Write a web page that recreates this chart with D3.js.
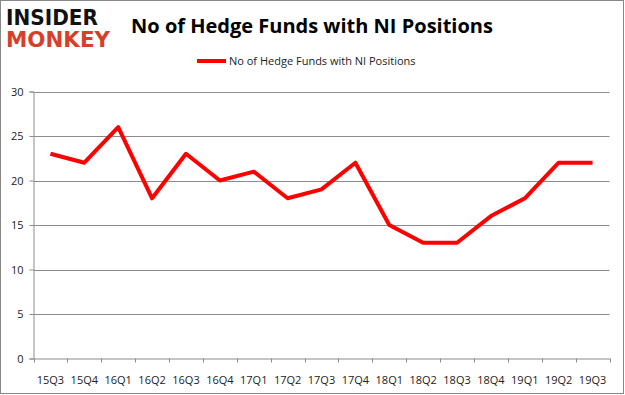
<!DOCTYPE html>
<html>
  <head>
    <meta charset="utf-8">
    <title>No of Hedge Funds with NI Positions</title>
    <script src="https://cdn.jsdelivr.net/npm/d3@7"></script>
    <style>
      body { margin: 0; background: #fff; }
      svg { display: block; font-family: "Open Sans", "DejaVu Sans", sans-serif; }
    </style>
  </head>
  <body>
    <svg id="chart" width="625" height="395"></svg>

    <script>
      // data
      quarters = ["15Q3", "15Q4", "16Q1", "16Q2", "16Q3", "16Q4", "17Q1", "17Q2", "17Q3",
        "17Q4", "18Q1", "18Q2", "18Q3", "18Q4", "19Q1", "19Q2", "19Q3"];
      funds = [23, 22, 26, 18, 23, 20, 21, 18, 19, 22, 15, 13, 13, 16, 18, 22, 22];
      yTicks = [0, 5, 10, 15, 20, 25, 30];
      seriesName = "No of Hedge Funds with NI Positions";

      chart = d3.select("#chart");

      // frame
      chart.append("rect")
        .attr("x", 0.5).attr("y", 0.5)
        .attr("width", 623).attr("height", 393)
        .attr("fill", "#fff")
        .attr("stroke", "#888");

      // logo (one text, two lines)
      logo = chart.append("text")
        .attr("font-family", "'DejaVu Sans', sans-serif")
        .attr("font-weight", "bold")
        .attr("font-size", 21);
      logo.append("tspan")
        .attr("x", 6).attr("y", 25)
        .attr("textLength", 92)
        .attr("lengthAdjust", "spacingAndGlyphs")
        .attr("fill", "#111")
        .text("INSIDER");
      logo.append("tspan")
        .attr("x", 6).attr("y", 47)
        .attr("textLength", 104)
        .attr("lengthAdjust", "spacingAndGlyphs")
        .attr("fill", "#d6402a")
        .text("MONKEY");

      // title
      chart.append("text")
        .attr("x", 312).attr("y", 33)
        .attr("text-anchor", "middle")
        .attr("font-size", 20)
        .attr("font-weight", "bold")
        .attr("fill", "#000")
        .text(seriesName);

      // scales
      margin = {left: 33.5, right: 609.5, top: 91.5, bottom: 358.5};
      x = d3.scaleBand().domain(quarters).range([margin.left, margin.right]);
      y = d3.scaleLinear().domain([0, 30]).range([margin.bottom, margin.top]);

      // gridlines
      chart.append("g")
        .selectAll("line")
        .data(yTicks.filter(function(d) { return d > 0; }))
        .enter().append("line")
          .attr("x1", margin.left).attr("x2", margin.right)
          .attr("y1", function(d) { return Math.round(y(d)) + 0.5; })
          .attr("y2", function(d) { return Math.round(y(d)) + 0.5; })
          .attr("stroke", "#8c8c8c");

      // axes
      yAxis = chart.append("g")
        .attr("transform", "translate(" + margin.left + ",0)")
        .call(d3.axisLeft(y).tickValues(yTicks).tickSize(4).tickPadding(6));
      xAxis = chart.append("g")
        .attr("transform", "translate(0," + margin.bottom + ")")
        .call(d3.axisBottom(x).tickSize(0).tickPadding(18));

      // x tick marks at band edges
      chart.append("g")
        .selectAll("line")
        .data(quarters.map(function(d) { return x(d); }).concat([margin.right]))
        .enter().append("line")
          .attr("x1", function(d) { return Math.round(d) + 0.5; })
          .attr("x2", function(d) { return Math.round(d) + 0.5; })
          .attr("y1", margin.bottom).attr("y2", margin.bottom + 4)
          .attr("stroke", "#8c8c8c");

      [xAxis, yAxis].forEach(function(a) {
        a.selectAll(".domain, .tick line").attr("stroke", "#8c8c8c");
        a.selectAll("text")
          .attr("font-size", 11)
          .attr("fill", "#222")
          .attr("font-family", "'Open Sans', sans-serif");
      });

      // line
      line = d3.line()
        .x(function(d, i) { return x(quarters[i]) + x.bandwidth() / 2; })
        .y(function(d) { return y(d); });
      chart.append("path")
        .datum(funds)
        .attr("d", line)
        .attr("fill", "none")
        .attr("stroke", "#ff0000")
        .attr("stroke-width", 4)
        .attr("stroke-linejoin", "round");

      // legend
      legend = chart.append("g").attr("transform", "translate(197,61)");
      legend.append("line")
        .attr("x1", 0).attr("x2", 29)
        .attr("stroke", "#ff0000")
        .attr("stroke-width", 4);
      legend.append("text")
        .attr("x", 32).attr("y", 4)
        .attr("font-size", 11)
        .attr("fill", "#222")
        .text(seriesName);
    </script>
  </body>
</html>
